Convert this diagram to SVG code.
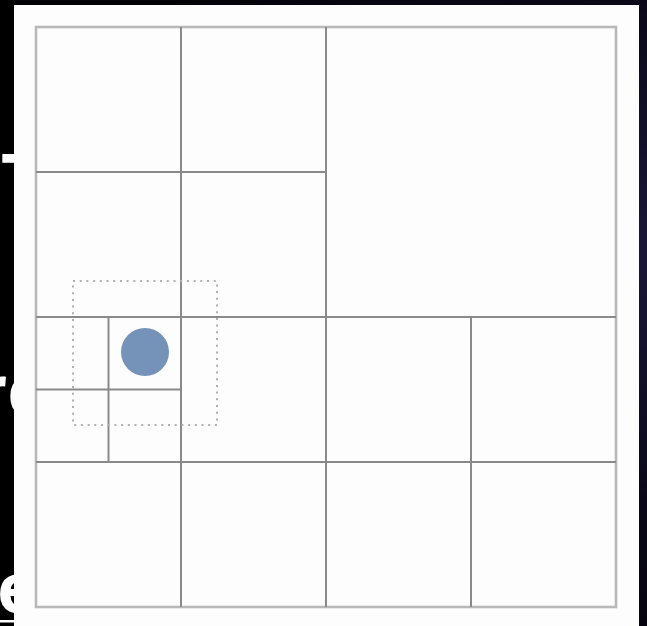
<svg xmlns="http://www.w3.org/2000/svg" width="647" height="626" viewBox="0 0 647 626">
  <defs>
    <radialGradient id="space" cx="0.95" cy="0.4" r="0.8">
      <stop offset="0" stop-color="#1a1838"/>
      <stop offset="0.5" stop-color="#0a0818"/>
      <stop offset="1" stop-color="#020206"/>
    </radialGradient>
    <filter id="soft" x="-5%" y="-5%" width="110%" height="110%">
      <feGaussianBlur stdDeviation="0.6"/>
    </filter>
  </defs>
  <style>
    .slide { font-family: "Open Sans", "Liberation Sans", sans-serif; font-size: 69px; font-weight: 700; fill: #ffffff; }
    .frame { fill: none; stroke: #b8b8b8; stroke-width: 2.6; }
    .grid { stroke: #8a8a8a; stroke-width: 2; fill: none; }
    .query { fill: none; stroke: #b0b0b0; stroke-width: 2; stroke-dasharray: 2 4.7; }
    .point { fill: #7592b8; }
  </style>

  <!-- background -->
  <rect x="0" y="0" width="647" height="626" fill="url(#space)"/>
  <rect x="0" y="0" width="14" height="626" fill="#000000"/>

  <!-- slide text partly hidden behind the panel -->
  <g id="slide-text">
    <text class="slide" x="1" y="204">T</text>
    <text class="slide" x="-24" y="415">rc</text>
    <text class="slide" x="-3" y="613">e</text>
    <rect x="0" y="620" width="14" height="2.5" fill="#ffffff"/>
  </g>

  <!-- white panel -->
  <rect id="panel" x="14" y="5" width="625" height="625" fill="#fdfdfd"/>

  <!-- quadtree grid -->
  <g id="quadtree" filter="url(#soft)">
    <rect class="frame" x="36" y="27" width="580" height="580"/>
    <g class="grid">
      <line x1="36" y1="317" x2="616" y2="317"/>
      <line x1="36" y1="462" x2="616" y2="462"/>
      <line x1="36" y1="172" x2="326" y2="172"/>
      <line x1="181" y1="27" x2="181" y2="607"/>
      <line x1="326" y1="27" x2="326" y2="607"/>
      <line x1="471" y1="317" x2="471" y2="607"/>
      <line x1="108.5" y1="317" x2="108.5" y2="462"/>
      <line x1="36" y1="389.5" x2="181" y2="389.5"/>
    </g>
  </g>

  <!-- query range -->
  <g id="query-range">
    <rect class="query" x="73" y="281" width="144" height="144"/>
  </g>

  <!-- point -->
  <g id="point">
    <circle class="point" cx="145" cy="352" r="24"/>
  </g>
</svg>
